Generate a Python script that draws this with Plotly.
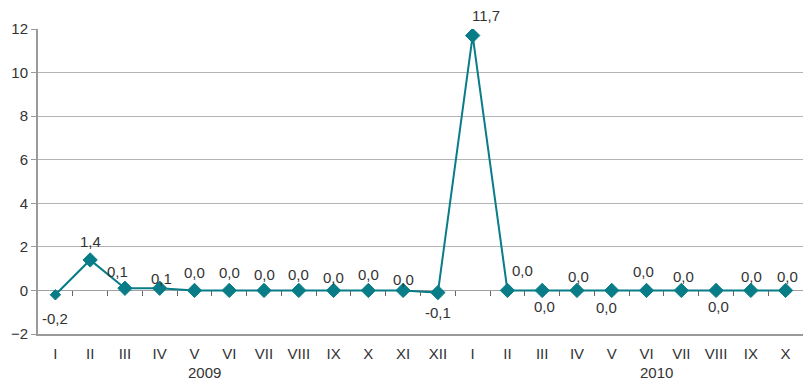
import plotly.graph_objects as go

categories = ["I", "II", "III", "IV", "V", "VI", "VII", "VIII", "IX", "X", "XI", "XII",
              "I", "II", "III", "IV", "V", "VI", "VII", "VIII", "IX", "X"]
values = [-0.2, 1.4, 0.1, 0.1, 0.0, 0.0, 0.0, 0.0, 0.0, 0.0, 0.0, -0.1,
          11.7, 0.0, 0.0, 0.0, 0.0, 0.0, 0.0, 0.0, 0.0, 0.0]
years = ["2009", "2010"]
year_pos = [4.28, 17.3]

# label offsets (pixels) for the data labels
label_dx = [0, 0, -7, 2, 0, 0, 0, 0, 0, 0, 0, 0,
            13, 15, 2, 2, -5, -3, 2, 2, 1, 2]
label_dy = [-24, 18, 17, 10, 18, 18, 16, 16, 13, 16, 11, -20,
            20, 20, -16, 14, -17, 19, 14, -16, 14, 14]

TEAL = "#087c87"
GRAY = "#9a9a9a"
TXT = "#333333"
FONT = "Liberation Sans, Arial, sans-serif"
FS = 15

x = list(range(len(values)))
sizes = [8] + [11] * (len(values) - 1)

fig = go.Figure()
fig.add_trace(go.Scatter(
    x=x, y=values, mode="lines+markers",
    line=dict(color=TEAL, width=2),
    marker=dict(symbol="diamond", size=sizes, color=TEAL, opacity=1,
                line=dict(color=TEAL, width=1)),
    hoverinfo="skip", showlegend=False,
))

def fmt(v):
    return f"{v:.1f}".replace(".", ",")

annotations = []
for i, v in enumerate(values):
    annotations.append(dict(
        x=i, y=v, xref="x", yref="y", text=fmt(v), showarrow=False,
        xshift=label_dx[i], yshift=label_dy[i],
        font=dict(family=FONT, size=FS, color=TXT),
    ))
for yr, p in zip(years, year_pos):
    annotations.append(dict(
        x=p, y=-48 / 305, xref="x", yref="paper", text=yr, showarrow=False,
        yanchor="bottom", borderpad=0, font=dict(family=FONT, size=FS, color=TXT),
    ))

fig.update_layout(
    width=803, height=382,
    margin=dict(l=38, r=0, t=29, b=48),
    paper_bgcolor="white", plot_bgcolor="white",
    font=dict(family=FONT, size=FS, color=TXT),
    annotations=annotations,
    xaxis=dict(
        range=[-0.5, len(values) - 0.5],
        tickvals=x, ticktext=categories,
        showgrid=False, zeroline=False,
        showline=True, linecolor=GRAY, linewidth=2,
        ticks="", ticklabelstandoff=5,
        tickfont=dict(family=FONT, size=FS, color=TXT),
    ),
    xaxis2=dict(
        overlaying="x", anchor="free", position=2 / 14, side="bottom",
        matches="x", range=[-0.5, len(values) - 0.5],
        tickvals=[i + 0.5 for i in range(len(values) - 1)],
        showticklabels=False, ticks="outside", ticklen=5, tickwidth=1,
        tickcolor="#666666", showgrid=False, zeroline=False, showline=False,
    ),
    yaxis=dict(
        range=[-2, 12], dtick=2, tick0=0,
        showgrid=True, gridcolor="#b4b4b4", gridwidth=1,
        zeroline=True, zerolinecolor="#a0a0a0", zerolinewidth=1,
        showline=True, linecolor=GRAY, linewidth=2,
        ticks="outside", ticklen=5, tickcolor=GRAY,
        tickfont=dict(family=FONT, size=FS, color=TXT),
    ),
)
fig.add_trace(go.Scatter(x=[None], y=[None], xaxis="x2", yaxis="y",
                         showlegend=False, hoverinfo="skip"))

fig.write_html("out.html", config={"displayModeBar": False},
               post_script="document.body.style.margin='0';document.body.style.overflow='hidden';")
